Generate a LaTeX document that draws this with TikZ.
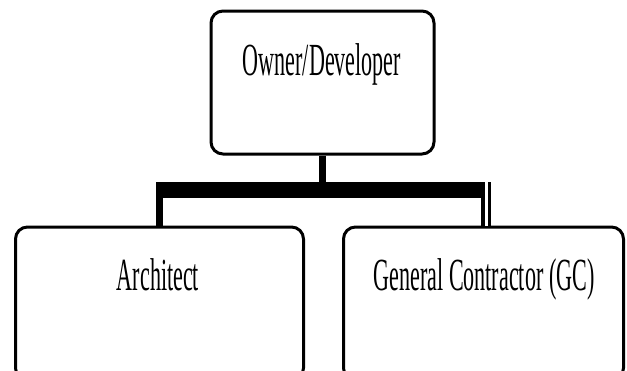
\documentclass[tikz,border=0pt]{standalone}
\usepackage{fontspec}
\newfontfamily\cond[FakeStretch=0.48]{Liberation Serif}
\begin{document}
\begin{tikzpicture}[x=1pt,y=-1pt,
  box/.style={draw=black,line width=3pt,rounded corners=12pt,rectangle,inner sep=0pt,fill=white},
  lbl/.style={anchor=base,inner sep=0pt,font=\cond\fontsize{46}{50}\selectfont},
  conn/.style={draw=black,line width=7pt}]
\useasboundingbox (0,0) rectangle (627,370);
\clip (0,0) rectangle (627,370);
% boxes
\node[box,minimum width=223pt,minimum height=143pt] (owner) at (322.5,82.5) {};
\node[box,minimum width=288pt,minimum height=153pt] (arch) at (159.5,303.5) {};
\node[box,minimum width=280pt,minimum height=153pt] (gc) at (483.5,303.5) {};
% labels
\node[lbl] (ownerT) at (322,75) {Owner/Developer};
\node[lbl] (archT) at (158,290) {Architect};
\node[lbl] (gcT) at (484,290) {General Contractor (GC)};
% connectors
\coordinate (barL) at (156,190);
\coordinate (barR) at (482,190);
\coordinate (dropL) at (159.5,182);
\coordinate (dropR) at (486,182);
\coordinate (endR) at (486,226);
\draw[conn] (owner.south) -- (owner.south |- barL);
\draw[draw=black,line width=16pt] (barL) -- (barR);
\draw[conn] (dropL) -- (arch.north -| dropL);
\draw[draw=black,double=white,line width=3.3pt,double distance=3pt] (dropR) -- (endR);
\end{tikzpicture}
\end{document}
